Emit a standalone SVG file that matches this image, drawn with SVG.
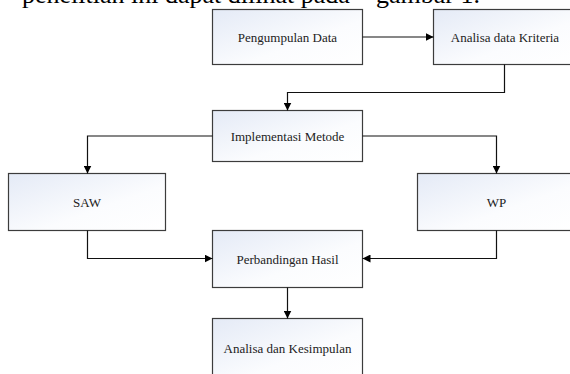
<svg xmlns="http://www.w3.org/2000/svg" width="570" height="374" viewBox="0 0 570 374">
<defs>
<linearGradient id="g" x1="0" y1="0" x2="1" y2="1">
<stop offset="0" stop-color="#e4eaf6"/>
<stop offset="0.6" stop-color="#fbfcfe"/>
<stop offset="1" stop-color="#ffffff"/>
</linearGradient>
<marker id="arr" markerWidth="8" markerHeight="8" refX="8" refY="4" orient="auto" markerUnits="userSpaceOnUse">
<path d="M0,0 L8,4 L0,8 Z" fill="#000"/>
</marker>
<style>
.box{fill:url(#g);stroke:#3c3c3c;stroke-width:1.2}
.lbl{font-family:"Liberation Serif","Times New Roman",serif;font-size:13px;fill:#222;text-anchor:middle;dominant-baseline:central}
.con{fill:none;stroke:#111;stroke-width:1.2;marker-end:url(#arr)}
.top{font-family:"Liberation Serif","Times New Roman",serif;font-size:26px;fill:#000}
</style>
</defs>
<text class="top" x="22" y="3">penelitian ini dapat dilihat pada</text>
<text class="top" x="376" y="3">gambar 1.</text>
<g id="n1"><rect class="box" x="212.5" y="9.5" width="150" height="55"/><text class="lbl" x="287.5" y="37">Pengumpulan Data</text></g>
<g id="n2"><rect class="box" x="433.5" y="9.5" width="143" height="55"/><text class="lbl" x="505" y="37">Analisa data Kriteria</text></g>
<g id="n3"><rect class="box" x="212.5" y="110.5" width="150" height="51"/><text class="lbl" x="287.5" y="136">Implementasi Metode</text></g>
<g id="n4"><rect class="box" x="8.5" y="173.5" width="157" height="57"/><text class="lbl" x="87" y="202">SAW</text></g>
<g id="n5"><rect class="box" x="417.5" y="173.5" width="158" height="57"/><text class="lbl" x="496.5" y="202">WP</text></g>
<g id="n6"><rect class="box" x="212.5" y="230.5" width="150" height="57"/><text class="lbl" x="287.5" y="259">Perbandingan Hasil</text></g>
<g id="n7"><rect class="box" x="212.5" y="318.5" width="150" height="60"/><text class="lbl" x="287.5" y="348">Analisa dan Kesimpulan</text></g>
<g id="connectors">
<path class="con" d="M362.5,37 H433.5"/>
<path class="con" d="M504.5,64.5 V92.5 H287.5 V110.5"/>
<path class="con" d="M212.5,136 H87.5 V173.5"/>
<path class="con" d="M362.5,136 H496.5 V173.5"/>
<path class="con" d="M87.5,230.5 V258.5 H212.5"/>
<path class="con" d="M496.5,230.5 V258.5 H362.5"/>
<path class="con" d="M287.5,287.5 V318.5"/>
</g>
</svg>
